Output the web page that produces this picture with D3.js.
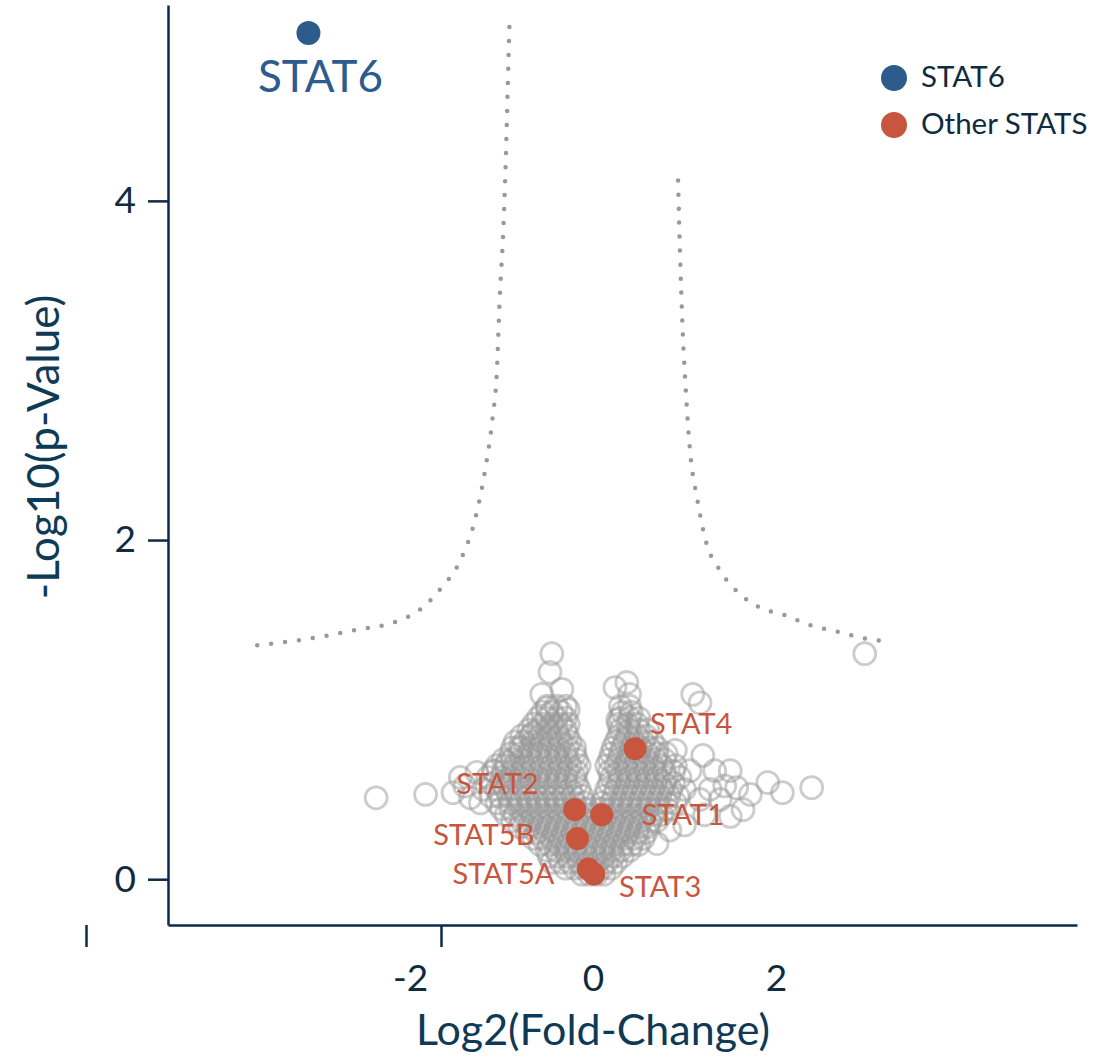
<!DOCTYPE html>
<html>
<head>
<meta charset="utf-8">
<script src="https://cdn.jsdelivr.net/npm/d3@7"></script>
<style>
    body { margin: 0; background: #fff; }
    svg { display: block; font-family: Lato, "Open Sans", sans-serif; }
</style>
</head>
<body>
<div id="chart"></div>
<script>
// ---- data ----
// dense part of the cloud, one row per -log10(p) level: [y, [log2FC ...]]
var cloudRows = [
    [0.03,  [-0.12, -0.04, 0.04, 0.12]],
    [0.065, [-0.3, -0.2, -0.1, 0, 0.1, 0.2]],
    [0.10,  [-0.45, -0.35, -0.25, -0.15, -0.05, 0.05, 0.15, 0.25]],
    [0.135, [-0.48, -0.38, -0.28, -0.18, -0.08, 0.02, 0.12, 0.22, 0.32]],
    [0.17,  [-0.5, -0.4, -0.3, -0.2, -0.1, 0, 0.1, 0.2, 0.3, 0.4]],
    [0.205, [-0.58, -0.48, -0.38, -0.28, -0.18, -0.08, 0.02, 0.12, 0.22, 0.32, 0.42, 0.5]],
    [0.24,  [-0.65, -0.55, -0.45, -0.35, -0.25, -0.15, -0.05, 0.05, 0.15, 0.25, 0.35, 0.45, 0.55]],
    [0.275, [-0.72, -0.62, -0.52, -0.42, -0.32, -0.22, -0.12, -0.02, 0.08, 0.18, 0.28, 0.38, 0.48, 0.58]],
    [0.31,  [-0.8, -0.7, -0.6, -0.5, -0.4, -0.3, -0.2, -0.1, 0, 0.1, 0.2, 0.3, 0.4, 0.5, 0.6]],
    [0.345, [-0.88, -0.78, -0.68, -0.58, -0.48, -0.38, -0.28, -0.18, -0.08, 0.02, 0.12, 0.22, 0.32, 0.42, 0.52, 0.62, 0.7]],
    [0.38,  [-0.95, -0.85, -0.75, -0.65, -0.55, -0.45, -0.35, -0.25, -0.15, -0.05, 0.05, 0.15, 0.25, 0.35, 0.45, 0.55, 0.65, 0.75]],
    [0.415, [-1.0, -0.9, -0.8, -0.7, -0.6, -0.5, -0.4, -0.3, -0.2, -0.1, 0, 0.1, 0.2, 0.3, 0.4, 0.5, 0.6, 0.7, 0.8]],
    [0.45,  [-1.05, -0.9, -0.8, -0.7, -0.6, -0.5, -0.4, -0.3, -0.2, -0.1, 0.1, 0.2, 0.3, 0.4, 0.5, 0.6, 0.7, 0.8, 0.9]],
    [0.49,  [-1.12, -1.02, -0.92, -0.82, -0.72, -0.62, -0.52, -0.42, -0.32, -0.22, -0.12, 0.13, 0.23, 0.33, 0.43, 0.53, 0.63, 0.73, 0.83, 0.93]],
    [0.53,  [-1.2, -1.05, -0.95, -0.85, -0.75, -0.65, -0.55, -0.45, -0.35, -0.25, -0.15, 0.15, 0.25, 0.35, 0.45, 0.55, 0.65, 0.75, 0.85, 1.0]],
    [0.565, [-1.1, -1.0, -0.9, -0.8, -0.7, -0.6, -0.5, -0.4, -0.3, -0.18, 0.18, 0.28, 0.38, 0.48, 0.58, 0.68, 0.78, 0.88]],
    [0.60,  [-1.15, -1.0, -0.9, -0.8, -0.7, -0.6, -0.5, -0.4, -0.3, -0.2, 0.2, 0.3, 0.4, 0.5, 0.6, 0.7, 0.8, 0.95]],
    [0.635, [-1.08, -0.98, -0.88, -0.78, -0.68, -0.58, -0.48, -0.38, -0.28, -0.18, 0.18, 0.28, 0.38, 0.48, 0.58, 0.68, 0.78, 0.88]],
    [0.67,  [-1.05, -0.95, -0.85, -0.75, -0.65, -0.55, -0.45, -0.35, -0.25, -0.15, 0.15, 0.25, 0.35, 0.45, 0.55, 0.65, 0.75, 0.9]],
    [0.705, [-0.98, -0.88, -0.78, -0.68, -0.58, -0.48, -0.38, -0.28, -0.18, 0.18, 0.28, 0.38, 0.48, 0.58, 0.68, 0.78]],
    [0.74,  [-0.9, -0.8, -0.7, -0.6, -0.5, -0.4, -0.3, -0.2, 0.2, 0.3, 0.4, 0.5, 0.6, 0.7, 0.8]],
    [0.775, [-0.88, -0.78, -0.68, -0.58, -0.48, -0.38, -0.28, -0.2, 0.22, 0.32, 0.42, 0.52, 0.62, 0.7]],
    [0.81,  [-0.85, -0.75, -0.65, -0.55, -0.45, -0.35, -0.25, 0.25, 0.35, 0.45, 0.55, 0.65]],
    [0.845, [-0.78, -0.68, -0.58, -0.48, -0.38, -0.28, 0.28, 0.38, 0.48, 0.58]],
    [0.88,  [-0.7, -0.6, -0.5, -0.4, -0.3, 0.3, 0.4, 0.5, 0.6]],
    [0.915, [-0.65, -0.55, -0.45, -0.35, -0.27, 0.28, 0.38, 0.48]],
    [0.95,  [-0.6, -0.5, -0.4, -0.3, 0.3, 0.4, 0.5]],
    [0.985, [-0.55, -0.45, -0.35, 0.32, 0.42]],
    [1.02,  [-0.5, -0.4, -0.3, 0.3, 0.4]]
];

// sparse circles around the cloud: [log2FC, -log10(p)]
var outliers = [
    [-0.45, 1.33], [-0.47, 1.22], [-0.56, 1.09], [-0.34, 1.12], [-0.27, 1.00], [-0.50, 1.01],
    [-0.66, 0.86], [-0.80, 0.78], [-0.94, 0.69], [-1.09, 0.64], [-1.27, 0.63], [-1.45, 0.60],
    [-1.53, 0.51], [-1.34, 0.48], [-2.37, 0.48], [-1.83, 0.50], [-1.23, 0.45], [-1.40, 0.55],
    [0.24, 1.13], [0.37, 1.16], [0.40, 1.09], [0.27, 0.94], [1.09, 1.09], [1.17, 1.04],
    [0.90, 0.76], [1.20, 0.73], [1.50, 0.64], [1.57, 0.54], [1.91, 0.57], [2.07, 0.51],
    [2.39, 0.54], [1.64, 0.41], [1.50, 0.37], [0.84, 0.29], [0.70, 0.21], [2.97, 1.33],
    [1.06, 0.64], [1.28, 0.53], [1.33, 0.64], [1.17, 0.47], [1.39, 0.47], [1.22, 0.38],
    [1.00, 0.32], [1.72, 0.50], [1.44, 0.55]
];

var statNames = ["STAT2", "STAT1", "STAT5B", "STAT5A", "STAT3", "STAT4"];
var statFC    = [-0.20, 0.095, -0.17, -0.05, 0.01, 0.46];
var statP     = [0.41, 0.38, 0.24, 0.06, 0.03, 0.77];

var stat6Name = "STAT6";
var stat6FC = -3.11;
var stat6P = 4.99;

// significance threshold curves
var leftCurveFC  = [-3.67, -3.20, -2.59, -2.15, -1.89, -1.67, -1.45, -1.29, -1.18, -1.10, -1.05, -1.02, -0.98, -0.95, -0.93, -0.91];
var leftCurveP   = [1.38, 1.41, 1.47, 1.52, 1.59, 1.71, 1.88, 2.12, 2.41, 2.71, 3.00, 3.42, 3.83, 4.30, 4.71, 5.10];
var rightCurveFC = [0.93, 0.95, 0.98, 1.02, 1.06, 1.14, 1.23, 1.39, 1.61, 1.83, 2.08, 2.36, 2.67, 2.97, 3.27];
var rightCurveP  = [4.12, 3.71, 3.24, 2.83, 2.53, 2.24, 2.00, 1.82, 1.68, 1.60, 1.56, 1.50, 1.46, 1.42, 1.40];

var xTickLabels = [-2, 0, 2];
var yTickLabels = [0, 2, 4];
var xTickMarks = [-4, -2];
var legendLabels = ["STAT6", "Other STATS"];

// ---- drawing ----
var width = 1099, height = 1058;
var blue = "#2d5b8b", red = "#c8553d", navy = "#0c2a4c", ink = "#0f2b40";

var svg = d3.select("#chart").append("svg")
    .attr("width", width)
    .attr("height", height);

var x = d3.scaleLinear().domain([-4.645, 5.29]).range([168, 1077]);
var y = d3.scaleLinear().domain([-0.27, 5.155]).range([925, 5]);

// threshold curves
var line = d3.line()
    .x(function(d) { return x(d[0]); })
    .y(function(d) { return y(d[1]); })
    .curve(d3.curveMonotoneX);

[[leftCurveFC, leftCurveP], [rightCurveFC, rightCurveP]].forEach(function(c) {
    svg.append("path")
        .datum(c[0].map(function(v, i) { return [v, c[1][i]]; }))
        .attr("d", line)
        .attr("fill", "none")
        .attr("stroke", "#999")
        .attr("stroke-width", 4.5)
        .attr("stroke-linecap", "round")
        .attr("stroke-dasharray", "0 14");
});

// grey cloud
var cloud = [];
cloudRows.forEach(function(r) {
    r[1].forEach(function(fc) { cloud.push([fc, r[0]]); });
});
cloud = cloud.concat(outliers);

svg.append("g")
    .selectAll("circle")
    .data(cloud)
    .enter().append("circle")
    .attr("cx", function(d) { return x(d[0]); })
    .attr("cy", function(d) { return y(d[1]); })
    .attr("r", 11)
    .attr("fill", "none")
    .attr("stroke", "#999")
    .attr("stroke-opacity", 0.5)
    .attr("stroke-width", 2.8);

// other STATs
var stats = statNames.map(function(n, i) { return { name: n, fc: statFC[i], p: statP[i] }; });

svg.append("g")
    .selectAll("circle")
    .data(stats)
    .enter().append("circle")
    .attr("cx", function(d) { return x(d.fc); })
    .attr("cy", function(d) { return y(d.p); })
    .attr("r", 11.5)
    .attr("fill", red);

// label placement (pixels from the point)
var labelPos = {
    STAT2:  { dx: -36, dy: -16, anchor: "end" },
    STAT1:  { dx: 40,  dy: 10,  anchor: "start" },
    STAT5B: { dx: -43, dy: 6,   anchor: "end" },
    STAT5A: { dx: -34, dy: 15,  anchor: "end" },
    STAT3:  { dx: 25,  dy: 23,  anchor: "start" },
    STAT4:  { dx: 15,  dy: -15, anchor: "start" }
};

svg.append("g")
    .selectAll("text")
    .data(stats)
    .enter().append("text")
    .attr("x", function(d) { return x(d.fc) + labelPos[d.name].dx; })
    .attr("y", function(d) { return y(d.p) + labelPos[d.name].dy; })
    .attr("text-anchor", function(d) { return labelPos[d.name].anchor; })
    .attr("fill", red)
    .style("font-size", "29px")
    .text(function(d) { return d.name; });

// STAT6
svg.append("circle")
    .attr("cx", x(stat6FC))
    .attr("cy", y(stat6P))
    .attr("r", 12)
    .attr("fill", blue);

svg.append("text")
    .attr("x", x(stat6FC) + 12)
    .attr("y", y(stat6P) + 59)
    .attr("text-anchor", "middle")
    .attr("fill", blue)
    .style("font-size", "44px")
    .text(stat6Name);

// axes
var yAxis = d3.axisLeft(y).tickValues(yTickLabels).tickSize(20).tickSizeOuter(0).tickPadding(12)
    .tickFormat(function(d) { return d; });
var gy = svg.append("g").attr("transform", "translate(168,0)").call(yAxis);
gy.selectAll("path, line").attr("stroke", navy).attr("stroke-width", 2.5);
gy.selectAll("text").attr("fill", ink).style("font-size", "37px").style("font-family", "Lato");

var xAxis = d3.axisBottom(x).tickValues(xTickLabels).tickSize(0).tickSizeOuter(0).tickPadding(40)
    .tickFormat(function(d) { return d; });
var gx = svg.append("g").attr("transform", "translate(0,925)").call(xAxis);
gx.select(".domain").attr("stroke", navy).attr("stroke-width", 2.5);
gx.selectAll("text").attr("fill", ink).style("font-size", "37px").style("font-family", "Lato");

// stray tick marks under the x axis
var xTick = d3.scaleLinear().domain([-4, -2]).range([86, 441]);
var gt = svg.append("g").attr("transform", "translate(0,925)")
    .call(d3.axisBottom(xTick).tickValues(xTickMarks).tickSize(22).tickFormat(""));
gt.select(".domain").remove();
gt.selectAll("line").attr("stroke", navy).attr("stroke-width", 2.5);

// axis titles
svg.append("text")
    .attr("transform", "translate(59,447)rotate(-90)")
    .attr("text-anchor", "middle")
    .attr("fill", "#0f3a55")
    .style("font-size", "44px")
    .text("-Log10(p-Value)");

svg.append("text")
    .attr("x", x(0))
    .attr("y", 1045)
    .attr("text-anchor", "middle")
    .attr("fill", "#0f3a55")
    .style("font-size", "43px")
    .text("Log2(Fold-Change)");

// legend
var legend = svg.append("g")
    .selectAll("g")
    .data(legendLabels)
    .enter().append("g")
    .attr("transform", function(d, i) { return "translate(894," + (78 + i * 47) + ")"; });

legend.append("circle")
    .attr("r", 13)
    .attr("fill", function(d, i) { return i == 0 ? blue : red; });

legend.append("text")
    .attr("x", 27)
    .attr("y", 9)
    .attr("fill", ink)
    .style("font-size", "29.5px")
    .text(function(d) { return d; });
</script>
</body>
</html>
